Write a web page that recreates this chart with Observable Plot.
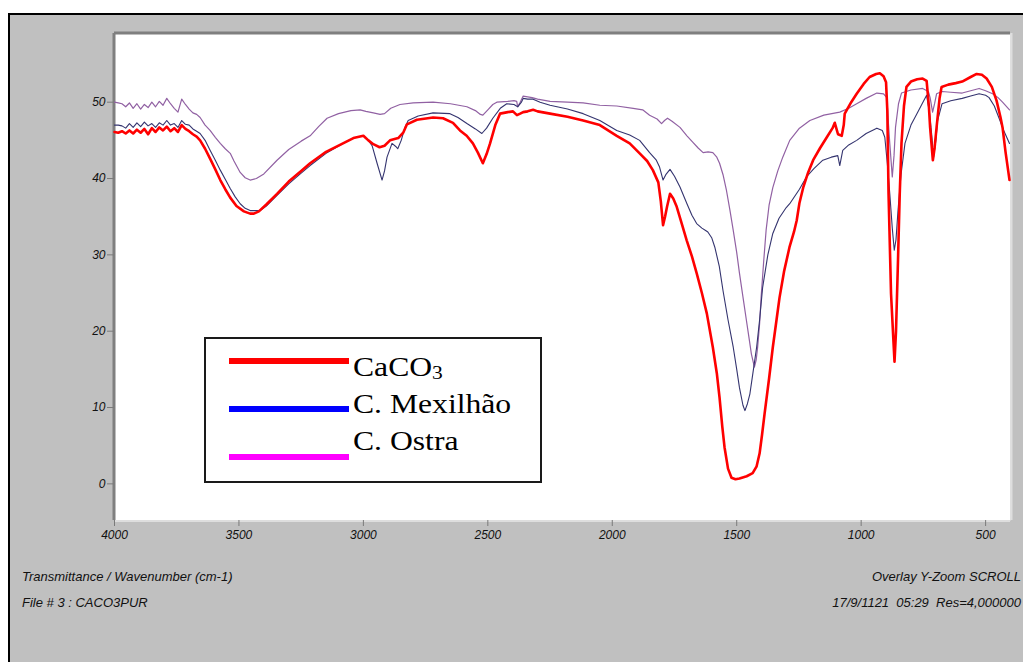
<!DOCTYPE html>
<html>
<head>
<meta charset="utf-8">
<script src="https://cdn.jsdelivr.net/npm/d3@7"></script>
<script src="https://cdn.jsdelivr.net/npm/@observablehq/plot@0.6"></script>
<style>
  html, body { margin: 0; padding: 0; }
  body { width: 1023px; height: 662px; overflow: hidden; background: #fff; position: relative; font-family: "Liberation Sans", Arial, sans-serif; }
  #panel { position: absolute; left: 8px; top: 13px; width: 1030px; height: 670px; background: #c0c0c0; border-top: 2px solid #000; border-left: 2px solid #000; }
  #chart { position: absolute; left: 0; top: 0; }
  #chart svg text { font-style: italic; }
  .foot { position: absolute; font-style: italic; font-size: 13px; line-height: 15px; color: #111; white-space: pre; }
  #legend { position: absolute; left: 204px; top: 337px; width: 338px; height: 146px; box-sizing: border-box; border: 2px solid #1a1a1a; background: #fff; }
  .lgline { position: absolute; left: 229px; width: 120px; height: 6px; }
  .lgtext { position: absolute; left: 353px; font-family: "Liberation Serif", "Times New Roman", serif; font-size: 28px; line-height: 28px; color: #000; white-space: nowrap; transform: scaleX(1.13); transform-origin: left center; }
  .lgtext sub { font-size: 19px; vertical-align: -3px; line-height: 0; }
</style>
</head>
<body>
<div id="panel"></div>
<div id="chart"></div>
<div class="foot" style="left:22px; top:569px;">Transmittance / Wavenumber (cm-1)</div>
<div class="foot" style="left:22px; top:595px;">File # 3 : CACO3PUR</div>
<div class="foot" style="right:2px; top:569px;">Overlay Y-Zoom SCROLL</div>
<div class="foot" style="right:2px; top:595px;">17/9/1121  05:29  Res=4,000000</div>
<div id="legend"></div>
<div class="lgline" style="top:358px; background:#ff0000;"></div>
<div class="lgline" style="top:406px; background:#0000ff;"></div>
<div class="lgline" style="top:454px; background:#ff00ff;"></div>
<div class="lgtext" style="top:353px;">CaCO<sub>3</sub></div>
<div class="lgtext" style="top:390px;">C. Mexilhão</div>
<div class="lgtext" style="top:427px;">C. Ostra</div>
<script>
// ---- Data (wavenumber cm-1, % transmittance) ----
const xTicks = [4000, 3500, 3000, 2500, 2000, 1500, 1000, 500];
const yTicks = [0, 10, 20, 30, 40, 50];
const xDomain = [4000, 400];
const yDomain = [-4.8, 59];

const caco3 = [
  [4000,46.1],[3985,46.0],[3970,46.2],[3955,45.9],[3940,46.3],[3925,45.9],[3910,46.4],[3895,46.0],
  [3880,46.5],[3865,45.8],[3850,46.6],[3835,46.1],[3820,46.7],[3805,46.3],[3790,46.8],[3775,46.2],
  [3760,46.6],[3745,46.1],[3730,47.0],[3715,46.5],[3700,46.2],[3685,45.8],[3670,45.5],[3656,45.0],
  [3636,43.9],[3616,42.6],[3595,41.2],[3575,39.8],[3555,38.6],[3535,37.5],[3510,36.4],[3480,35.7],
  [3455,35.4],[3440,35.4],[3420,35.7],[3390,36.6],[3347,38.0],[3300,39.6],[3250,41.0],[3214,42.0],
  [3150,43.5],[3082,44.6],[3040,45.3],[3000,45.6],[2980,45.0],[2960,44.5],[2935,44.1],[2915,44.3],
  [2893,45.0],[2860,45.3],[2840,46.0],[2825,47.1],[2785,47.7],[2720,48.0],[2680,47.9],[2640,47.3],
  [2612,46.3],[2585,45.6],[2560,44.6],[2540,43.4],[2520,42.0],[2505,43.2],[2491,44.6],[2470,47.0],
  [2451,48.5],[2420,48.7],[2399,48.8],[2383,48.3],[2370,48.5],[2358,48.7],[2340,48.8],[2318,49.0],
  [2300,48.8],[2250,48.5],[2180,48.1],[2117,47.6],[2050,47.0],[1982,45.6],[1930,44.6],[1890,43.3],
  [1860,42.3],[1837,41.1],[1815,39.5],[1805,37.0],[1796,33.9],[1788,35.0],[1780,36.3],[1768,38.0],
  [1755,37.4],[1741,36.3],[1720,34.0],[1701,31.9],[1680,29.8],[1661,27.6],[1640,25.0],[1620,22.3],
  [1596,17.9],[1580,14.5],[1569,11.3],[1558,7.5],[1549,4.8],[1535,2.0],[1521,0.8],[1505,0.6],
  [1489,0.7],[1460,1.0],[1436,1.4],[1420,2.3],[1408,4.0],[1398,6.5],[1388,9.2],[1370,13.8],
  [1355,17.9],[1340,21.5],[1328,24.4],[1310,27.8],[1288,31.0],[1270,33.0],[1259,34.5],[1248,36.8],
  [1233,38.8],[1213,40.8],[1193,42.4],[1165,44.0],[1138,45.4],[1115,46.6],[1106,47.3],[1100,46.6],
  [1093,45.8],[1078,45.6],[1070,47.0],[1066,48.5],[1040,50.0],[1018,51.1],[990,52.4],[966,53.3],
  [940,53.7],[925,53.8],[910,53.4],[900,52.6],[895,49.0],[890,38.0],[880,24.9],[870,18.5],
  [866,16.0],[860,20.0],[852,29.3],[845,38.0],[838,44.6],[828,49.5],[818,52.0],[800,52.7],
  [775,53.0],[753,53.1],[737,52.8],[728,49.5],[723,46.7],[712,42.4],[705,44.0],[697,46.7],
  [685,50.5],[677,52.0],[650,52.3],[620,52.5],[594,52.7],[560,53.3],[536,53.7],[515,53.6],
  [496,53.1],[475,52.0],[456,50.2],[440,48.0],[432,46.7],[420,43.5],[404,39.8]
];

const mexilhao = [
  [4000,47.0],[3985,47.0],[3970,46.9],[3955,46.6],[3940,47.2],[3925,46.7],[3910,47.3],[3895,46.8],
  [3880,47.4],[3865,46.9],[3850,47.2],[3835,46.7],[3820,47.3],[3805,47.0],[3790,47.6],[3775,47.0],
  [3760,47.2],[3745,46.7],[3730,47.6],[3715,47.1],[3700,47.0],[3685,46.5],[3670,46.2],[3656,45.9],
  [3636,45.0],[3616,43.7],[3595,42.4],[3575,41.1],[3555,39.9],[3535,38.7],[3515,37.6],[3495,36.7],
  [3475,36.1],[3455,35.8],[3415,35.8],[3390,36.4],[3347,37.8],[3300,39.3],[3250,40.7],[3214,41.7],
  [3150,43.3],[3082,44.6],[3040,45.3],[3000,45.6],[2980,45.0],[2965,44.3],[2945,42.0],[2925,39.8],
  [2915,41.0],[2905,42.8],[2885,44.6],[2870,44.2],[2862,43.9],[2848,45.0],[2833,46.7],[2820,47.6],
  [2780,48.2],[2720,48.6],[2652,48.5],[2620,48.0],[2584,47.2],[2550,46.5],[2524,45.9],[2505,46.6],
  [2480,47.9],[2450,49.2],[2424,49.8],[2395,49.7],[2380,49.4],[2365,50.0],[2358,50.5],[2340,50.4],
  [2318,50.4],[2290,50.0],[2250,49.6],[2180,49.1],[2117,48.5],[2050,47.6],[1982,46.3],[1930,45.7],
  [1890,45.0],[1850,43.4],[1823,42.4],[1810,41.5],[1796,39.8],[1785,40.5],[1768,41.2],[1750,40.3],
  [1728,38.9],[1700,36.7],[1680,35.2],[1661,34.1],[1640,33.5],[1625,33.2],[1616,33.0],[1600,32.2],
  [1588,31.0],[1570,28.5],[1555,25.3],[1535,21.5],[1514,17.9],[1500,15.0],[1489,12.6],[1475,10.3],
  [1467,9.6],[1457,10.5],[1447,11.8],[1435,14.5],[1420,17.9],[1408,21.5],[1396,25.7],[1375,30.0],
  [1355,32.8],[1330,34.8],[1301,36.2],[1287,36.7],[1248,38.6],[1220,40.2],[1190,41.3],[1154,42.4],
  [1120,42.8],[1094,43.0],[1086,41.7],[1074,43.7],[1050,44.4],[1018,45.0],[980,45.9],[937,46.6],
  [915,46.3],[905,45.4],[895,42.0],[885,38.0],[875,33.5],[867,30.6],[860,32.0],[852,35.8],
  [840,40.5],[824,44.6],[800,47.0],[776,48.5],[755,49.8],[737,50.9],[725,48.5],[717,45.9],
  [709,42.8],[700,45.0],[693,47.6],[675,49.8],[640,50.2],[594,50.5],[560,50.8],[526,51.1],
  [500,50.9],[486,50.6],[465,49.5],[447,48.0],[430,46.5],[404,44.6]
];

const ostra = [
  [4000,50.0],[3985,49.9],[3970,49.8],[3955,49.4],[3940,49.9],[3925,49.2],[3910,49.8],[3895,49.1],
  [3880,49.7],[3865,49.3],[3850,50.0],[3835,49.4],[3820,50.1],[3805,49.6],[3790,50.5],[3775,49.8],
  [3760,49.2],[3745,48.7],[3730,50.4],[3715,49.7],[3700,49.1],[3685,48.6],[3670,48.4],[3656,48.0],
  [3636,47.0],[3616,46.3],[3595,45.4],[3575,44.6],[3555,43.9],[3535,43.3],[3520,42.3],[3495,40.8],
  [3475,40.1],[3455,39.8],[3430,40.0],[3400,40.6],[3347,42.4],[3300,43.8],[3250,44.9],[3214,45.6],
  [3180,46.8],[3146,47.9],[3100,48.5],[3050,48.9],[3013,49.0],[2990,48.8],[2960,48.6],[2933,48.4],
  [2915,48.5],[2890,49.2],[2853,49.7],[2800,49.9],[2720,50.0],[2650,49.8],[2584,49.4],[2550,48.9],
  [2530,48.4],[2520,48.3],[2500,49.0],[2480,49.7],[2464,50.0],[2420,50.1],[2395,50.2],[2384,50.1],
  [2380,49.4],[2370,50.0],[2358,50.8],[2340,50.7],[2322,50.6],[2300,50.4],[2250,50.1],[2180,50.0],
  [2117,49.9],[2050,49.6],[1982,49.5],[1916,49.2],[1878,49.0],[1850,48.3],[1820,47.8],[1802,47.2],
  [1790,47.6],[1778,47.9],[1760,47.5],[1728,46.7],[1700,45.6],[1675,44.7],[1655,44.0],[1635,43.4],
  [1615,43.5],[1596,43.4],[1580,42.8],[1569,42.0],[1555,40.5],[1541,38.4],[1527,35.8],[1514,33.2],
  [1500,30.3],[1489,27.6],[1475,24.5],[1461,21.4],[1450,19.0],[1441,17.0],[1429,15.3],[1422,16.2],
  [1416,17.9],[1408,21.0],[1402,24.4],[1392,29.0],[1382,33.2],[1370,36.5],[1355,38.8],[1335,41.0],
  [1315,42.8],[1287,45.0],[1248,46.6],[1206,47.6],[1150,48.3],[1086,48.7],[1050,49.2],[1018,49.8],
  [980,50.5],[937,51.2],[910,51.1],[897,50.6],[890,47.0],[885,44.6],[875,40.2],[868,43.0],
  [862,46.7],[850,49.8],[838,51.2],[800,51.6],[753,51.8],[730,51.4],[723,50.6],[713,48.7],
  [705,49.8],[697,51.1],[675,51.4],[640,51.3],[594,51.2],[560,51.5],[526,51.8],[500,51.5],
  [472,51.1],[450,50.6],[432,50.0],[404,49.0]
];

const toRows = (arr) => arr.map(([wn, T]) => ({wn, T}));

const chart = Plot.plot({
  width: 1023,
  height: 662,
  marginLeft: 114,
  marginRight: 13,
  marginTop: 33,
  marginBottom: 142,
  style: { background: "transparent", fontFamily: "'Liberation Sans', Arial, sans-serif", fontSize: "12px", fontStyle: "italic", color: "#111", overflow: "visible" },
  x: { domain: xDomain, label: null },
  y: { domain: yDomain, label: null },
  marks: [
    Plot.frame({ fill: "white", stroke: null }),
    Plot.ruleX([xDomain[1]], { stroke: "#dedede", strokeWidth: 2, dx: 1 }),
    Plot.ruleY([yDomain[0]], { stroke: "#dedede", strokeWidth: 2, dy: 0.5 }),
    Plot.ruleX([xDomain[0]], { stroke: "#7f7f7f", strokeWidth: 3, dx: -0.5 }),
    Plot.ruleY([yDomain[1]], { stroke: "#7f7f7f", strokeWidth: 3, dy: -0.5 }),
    Plot.axisX(xTicks, { anchor: "bottom", tickSize: 6, tickPadding: 4, tickFormat: d => String(d), stroke: "#7a7a7a", fontStyle: "italic", fontSize: 12, label: null }),
    Plot.axisY(yTicks, { anchor: "left", tickSize: 7, tickPadding: 2, tickFormat: d => String(d), stroke: "#7a7a7a", fontStyle: "italic", fontSize: 12, label: null }),
    Plot.line(toRows(ostra), { x: "wn", y: "T", stroke: "#9161a3", strokeWidth: 1.2 }),
    Plot.line(toRows(mexilhao), { x: "wn", y: "T", stroke: "#34346f", strokeWidth: 1.1 }),
    Plot.line(toRows(caco3), { x: "wn", y: "T", stroke: "#ff0000", strokeWidth: 2.6 })
  ]
});
document.getElementById("chart").appendChild(chart);
</script>
</body>
</html>
